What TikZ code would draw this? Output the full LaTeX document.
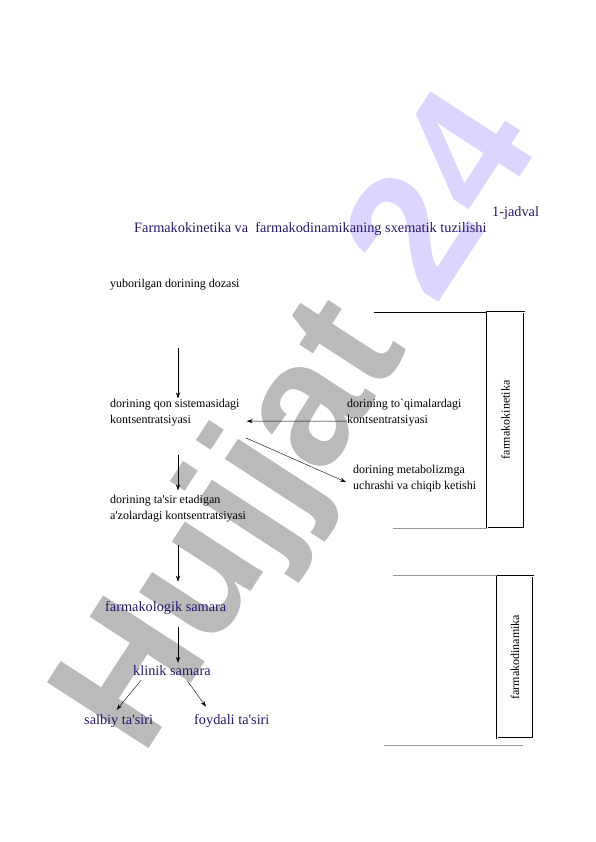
\documentclass[tikz,border=0pt]{standalone}
\usepackage{fontspec}
\setmainfont{Liberation Serif}
\newfontfamily\wmfont{Liberation Sans}
\usetikzlibrary{arrows.meta,positioning}
\definecolor{navy}{RGB}{30,26,110}
\definecolor{wmgray}{RGB}{186,186,186}
\definecolor{wmlilac}{RGB}{221,212,255}
\tikzset{
  txt/.style={anchor=base west, inner sep=0pt, align=left, font=\fontsize{12}{16}\selectfont},
  bluetxt/.style={anchor=base west, inner sep=0pt, text=navy, font=\fontsize{14.3}{17}\selectfont},
  arr/.style={-{Stealth[length=6pt,width=4pt]}, thin},
  frame/.style={draw, double, double distance=1pt, inner sep=0pt},
  gline/.style={draw, gray!80, line width=1pt}
}

\begin{document}
\begin{tikzpicture}[x=1pt,y=-1pt]
		\useasboundingbox (0,0) rectangle (596,842);
		% watermark
		\node[rotate=57, anchor=base, inner sep=0pt, font=\wmfont\bfseries\fontsize{176}{176}\selectfont] (wm) at (342,451) {\textcolor{wmgray}{Hujjat} \textcolor{wmlilac}{24}};
		% headings
		\node[bluetxt] (jadval) at (492,216) {1-jadval};
		\node[bluetxt] (title) at (134,233) {Farmakokinetika va\ \ farmakodinamikaning sxematik tuzilishi};
		% kinetics (base = last line)
		\node[txt] (doza) at (110,287) {yuborilgan dorining dozasi};
		\node[txt] (qon) at (110,423) {dorining qon sistemasidagi\\kontsentratsiyasi};
		\node[txt] (toqima) at (347,423) {dorining to\textasciigrave qimalardagi\\kontsentratsiyasi};
		\node[txt] (metab) at (353,489) {dorining metabolizmga\\uchrashi va chiqib ketishi};
		\node[txt] (tasir) at (110,519) {dorining ta\textquotesingle sir etadigan\\a\textquotesingle zolardagi kontsentratsiyasi};
		% dynamics
		\node[bluetxt] (samara) at (105,611) {farmakologik samara};
		\node[bluetxt] (klinik) at (133,675) {klinik samara};
		\node[bluetxt] (salbiy) at (84,724) {salbiy ta\textquotesingle siri};
		\node[bluetxt] (foydali) at (194,724) {foydali ta\textquotesingle siri};
		% side boxes
		\node[frame, minimum width=37pt, minimum height=216pt] (kin) at (505.5,420) {};
		\node[rotate=90, font=\fontsize{12}{14}\selectfont] at (kin.center) {farmakokinetika};
		\node[frame, minimum width=36pt, minimum height=162pt] (din) at (515,657) {};
		\node[rotate=90, font=\fontsize{12}{14}\selectfont] at (din.center) {farmakodinamika};
		\draw (kin.north west) -- ++(-113,0);
		\draw[gline] (kin.south west) -- ++(-94,0);
		\draw[gline] (din.north west) -- ++(-104,0);
		\draw[gline] ([xshift=-10pt,yshift=-7pt]din.south east) -- ++(-139,0);
		% arrows
		\coordinate (ax) at (178,0);
		\draw[arr, shorten <=58pt] (doza.south -| ax) -- (qon.north -| ax);
		\draw[arr, shorten >=7pt] ([yshift=-9pt]toqima.west) -- ([yshift=-9pt]qon.east);
		\draw[arr] ([xshift=6pt,yshift=-12pt]qon.south east) -- ([xshift=-7pt,yshift=-4pt]metab.west);
		\draw[arr, shorten <=29pt, shorten >=4pt] (qon.south -| ax) -- (tasir.north -| ax);
		\draw[arr, shorten <=23pt, shorten >=19pt] (tasir.south -| ax) -- (samara.north -| ax);
		\draw[arr, shorten <=13pt, shorten >=2pt] (samara.south -| ax) -- (klinik.north -| ax);
		\draw[arr] ([xshift=8pt,yshift=-5pt]klinik.south west) -- ([xshift=-2pt,yshift=4pt]salbiy.north);
		\draw[arr] ([xshift=54pt,yshift=-5pt]klinik.south west) -- ([xshift=12pt,yshift=7pt]foydali.north west);
	\end{tikzpicture}
\end{document}
